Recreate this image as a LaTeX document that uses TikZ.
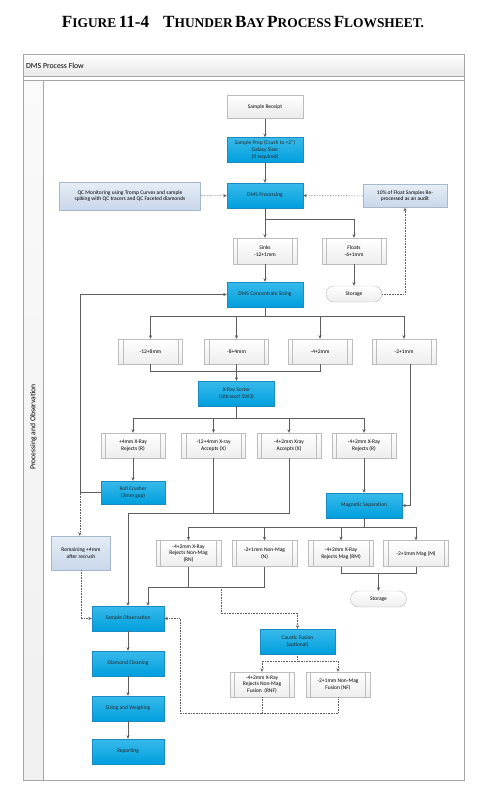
\documentclass[tikz,border=0pt]{standalone}
\usepackage{fontspec}
\setmainfont{Liberation Serif}
\newfontfamily\boxfont{Carlito}
\usepackage{tikz}
\usetikzlibrary{arrows.meta}
\usetikzlibrary{calc}

\definecolor{vblue}{HTML}{009FDE}
\definecolor{vbluetop}{HTML}{38BAEA}
\definecolor{vblueline}{HTML}{1A8CC4}
\definecolor{paletop}{HTML}{E6EDF6}
\definecolor{palebot}{HTML}{C8D7EA}
\definecolor{paleline}{HTML}{A6B7CE}
\definecolor{boxline}{HTML}{BDBDBD}
\definecolor{flowgrey}{HTML}{5E5E5E}
\definecolor{framegrey}{HTML}{A6A6A6}

% title small caps by hand
\newcommand{\titlecap}[1]{{\fontsize{17.1}{19}\selectfont #1}}
\newcommand{\titlesc}[1]{{\fontsize{13.4}{15}\selectfont #1}}

\tikzset{
  every node/.style={font=\boxfont\fontsize{5.5}{6.6}\selectfont, align=center, inner sep=0pt},
  blue box/.style={draw=vblueline, top color=vbluetop, bottom color=vblue,
    minimum width=76pt, minimum height=25pt, text=black!85},
  start box/.style={draw=boxline, top color=white, bottom color=black!8,
    minimum width=76pt, minimum height=23pt},
  pale box/.style={draw=paleline, top color=paletop, bottom color=palebot,
    minimum height=24pt},
  sub box/.style={draw=boxline, top color=white, bottom color=black!7,
    minimum width=64pt, minimum height=25pt,
    path picture={
      \draw[boxline]
        ([xshift=4.5pt]path picture bounding box.north west) --
        ([xshift=4.5pt]path picture bounding box.south west)
        ([xshift=-4.5pt]path picture bounding box.north east) --
        ([xshift=-4.5pt]path picture bounding box.south east);}},
  store box/.style={draw=boxline, top color=white, bottom color=black!7,
    rounded corners=8pt, minimum width=56pt, minimum height=16pt},
  conn/.style={draw=flowgrey, line width=0.6pt},
  aux/.style={conn, densely dotted},
  frame/.style={draw=framegrey, line width=0.8pt}
}

\begin{document}
\begin{tikzpicture}[x=1pt,y=-1pt,>={Stealth[length=3.6pt,width=3.2pt]}]
  \useasboundingbox (0,0) rectangle (486,795);

  % title
  \node[font=\bfseries] (title) at (243,22)
    {\titlecap{F}\titlesc{IGURE} \titlecap{11-4}\hspace{14pt}\titlecap{T}\titlesc{HUNDER}
     \titlecap{B}\titlesc{AY} \titlecap{P}\titlesc{ROCESS} \titlecap{F}\titlesc{LOWSHEET.}};

  % swimlane frame
  \draw[frame, top color=white, bottom color=black!9] (23,54) rectangle (464,76);
  \draw[frame] (23,80) rectangle (464,780);
  \draw[frame] (23,76) -- (23,80) (464,76) -- (464,80);
  \draw[frame, top color=black!2, bottom color=black!6] (23,80) rectangle (43,780);
  \node[anchor=west, font=\boxfont\fontsize{7.8}{9}\selectfont] (lanehead) at (26,65.5) {DMS Process Flow};
  \node[rotate=90, font=\boxfont\fontsize{7.6}{9}\selectfont] (lane) at (33.5,427) {Processing and Observation};

  % main column
  \node[start box] (receipt) at (265,107) {Sample Receipt};
  \node[blue box] (prep) at (265,150) {Sample Prep (Crush to <2”)\\Galaxy Sizer\\(if required)};
  \node[blue box] (dms) at (265,195.5) {DMS Processing};
  \node[pale box, minimum width=141pt, minimum height=28pt] (qc) at (130,196)
    {QC Monitoring using Tromp Curves and sample\\spiking with QC tracers and QC Faceted diamonds};
  \node[pale box, minimum width=84pt, minimum height=23pt] (audit) at (405,196)
    {10\% of Float Samples Re-\\processed as an audit};
  \node[sub box, minimum height=26pt] (sinks) at (265,251) {Sinks\\-12+1mm};
  \node[sub box, minimum height=26pt] (floats) at (354,251) {Floats\\-6+1mm};
  \node[blue box] (sizing) at (265,294.5) {DMS Concentrate Sizing};
  \node[store box] (storeA) at (354,294) {Storage};

  % size fractions
  \foreach \nm/\px/\txt in {f128/150.5/{-12+8mm},f84/236.5/{-8+4mm},f42/320/{-4+2mm},f21/404/{-2+1mm}}
    \node[sub box] (\nm) at (\px,351.5) {\txt};
  \node[blue box] (xray) at (236.5,393.5) {X-Ray Sorter\\(Ultrasort SW3)};

  % x-ray products
  \foreach \nm/\px/\txt in {rejR/133/{+4mm X-Ray\\Rejects (R)},accA/213.5/{-12+4mm X-ray\\Accepts (X)},
      accB/289/{-4+2mm Xray\\Accepts (X)},rejS/364/{-4+2mm X-Ray\\Rejects (R)}}
    \node[sub box] (\nm) at (\px,445.5) {\txt};
  \node[blue box, minimum width=64pt, minimum height=23pt] (roll) at (133,492.5) {Roll Crusher\\(3mm gap)};
  \node[blue box] (mag) at (364,505.5) {Magnetic Separation};
  \node[pale box, minimum width=59pt, minimum height=34pt] (remain) at (81,553) {Remaining +4mm\\after recrush};

  % magnetic products
  \foreach \nm/\px/\txt in {rn/188.5/{-4+2mm X-Ray\\Rejects Non-Mag\\(RN)},nm/264.5/{-2+1mm Non-Mag\\(N)},
      rm/341/{-4+2mm X-Ray\\Rejects Mag (RM)},mm/416/{-2+1mm Mag (M)}}
    \node[sub box, minimum width=65pt, minimum height=26pt] (\nm) at (\px,553.5) {\txt};
  \node[store box] (storeB) at (378.5,599) {Storage};

  % observation column
  \node[blue box, minimum width=72pt] (obs) at (128,618.5) {Sample Observation};
  \node[blue box, minimum width=72pt] (clean) at (128,663.5) {Diamond Cleaning};
  \node[blue box, minimum width=72pt] (weigh) at (128,708.5) {Sizing and Weighing};
  \node[blue box, minimum width=72pt] (report) at (128,751.5) {Reporting};

  % fusion
  \node[blue box, minimum width=75pt] (caustic) at (297.5,641.5) {Caustic Fusion\\(optional)};
  \node[sub box] (rnf) at (262,684.5) {-4+2mm X-Ray\\Rejects Non-Mag\\Fusion \ (RNF)};
  \node[sub box] (nf) at (338,684.5) {-2+1mm Non-Mag\\Fusion (NF)};

  % junctions
  \coordinate (dmsJ) at ($(dms.south)+(0,11)$);
  \coordinate (sizJ) at ($(sizing.south)+(0,9)$);
  \coordinate (xrayJ) at ($(xray.south)+(0,12)$);
  \coordinate (magJ) at ($(mag.south)+(0,9)$);
  \coordinate (accJ) at ($(accA.south)+(0,55)$);
  \coordinate (rnJ) at ($(rn.south)+(0,20.5)$);
  \coordinate (fusJ) at ($(caustic.south)+(0,7)$);
  \coordinate (rnfJ) at ($(rnf.south)+(0,16)$);
  \coordinate (rollJ) at ($(roll.west)+(-21,0)$);

  % solid connectors
  \draw[conn,->] (receipt) -- (prep);
  \draw[conn,->] (prep) -- (dms);
  \draw[conn,->] (dms) -- (sinks);
  \draw[conn,->] (dmsJ) -| (floats.north);
  \draw[conn,->] (sinks) -- (sizing);
  \draw[conn,->] (floats) -- (storeA);
  \draw[conn] (sizing.south) -- (sizJ);
  \foreach \nm in {f128,f84,f42,f21}
    \draw[conn,->] (sizJ) -| (\nm.north);
  \draw[conn] (f128.south) -- ++(0,7) -| (f42.south);
  \draw[conn,->] (f84) -- (xray);
  \draw[conn] (xray.south) -- (xrayJ);
  \foreach \nm in {rejR,accA,accB,rejS}
    \draw[conn,->] (xrayJ) -| (\nm.north);
  \draw[conn,->] (rejR) -- (roll);
  \draw[conn,->] (roll.west) -- (rollJ) |- (sizing.west);
  \draw[conn] (accA.south) -- (accJ) -| (accB.south);
  \draw[conn,->] (accJ) -| (obs.north);
  \draw[conn,->] (rejS) -- (mag);
  \draw[conn,->] ([xshift=6pt]f21.south) |- (mag.east);
  \draw[conn] (mag.south) -- (magJ);
  \foreach \nm in {rn,nm,rm,mm}
    \draw[conn,->] (magJ) -| (\nm.north);
  \draw[conn] (rm.south) -- ++(0,7) -| (mm.south);
  \draw[conn,->] ($(rm.south)!0.5!(mm.south)+(0,7)$) -- (storeB);
  \draw[conn] (rn.south) -- (rnJ) -| (nm.south);
  \draw[conn,->] (rnJ) -| ([xshift=20pt]obs.north);
  \foreach \a/\b in {obs/clean,clean/weigh,weigh/report}
    \draw[conn,->] (\a) -- (\b);

  % dotted connectors
  \draw[aux,->] (qc) -- (dms);
  \draw[aux,->] (audit) -- (dms);
  \draw[aux,->] (storeA.east) -| (audit.south);
  \draw[aux,->] (rollJ) -- (remain.north -| rollJ);
  \draw[aux,->] (remain.south) |- (obs.west);
  \draw[aux,->] ($(rnJ)+(32.5,0)$) -- ++(0,26) -| (caustic.north);
  \draw[aux] (caustic.south) -- (fusJ);
  \draw[aux,->] (fusJ) -| (rnf.north);
  \draw[aux,->] (fusJ) -| (nf.north);
  \draw[aux] (rnf.south) -- (rnfJ) -| (nf.south);
  \draw[aux,->] (rnfJ) -- ++(-82,0) |- (obs.east);
\end{tikzpicture}
\end{document}
